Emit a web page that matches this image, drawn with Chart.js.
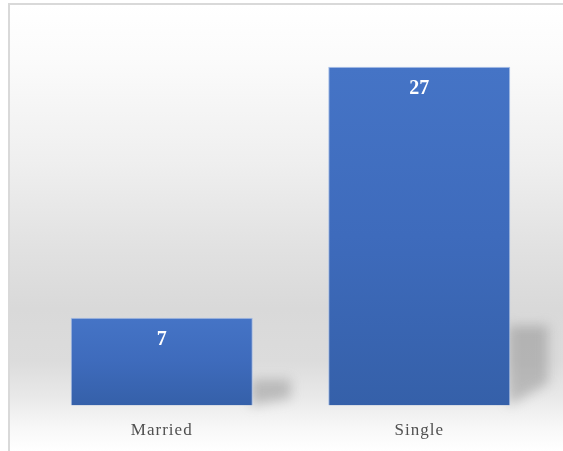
<!DOCTYPE html>
<html>
<head>
<meta charset="utf-8">
<script src="https://cdn.jsdelivr.net/npm/chart.js@4/dist/chart.umd.min.js"></script>
<style>
  html, body { margin: 0; padding: 0; background: #ffffff; }
  #wrap { position: relative; width: 563px; height: 451px; }
</style>
</head>
<body>
<div id="wrap"><canvas id="c" width="563" height="451"></canvas></div>
<script>
const categories = ['Married', 'Single'];
const counts = [7, 27];
const yMax = 30;

const bgPlugin = {
  id: 'bgPlugin',
  beforeDraw(chart) {
    const ctx = chart.ctx;
    const W = chart.width, H = chart.height;
    ctx.save();
    ctx.fillStyle = '#ffffff';
    ctx.fillRect(0, 0, W, H);
    const g = ctx.createLinearGradient(0, 5, 0, H);
    g.addColorStop(0.00, '#ffffff');
    g.addColorStop(0.12, '#fbfbfb');
    g.addColorStop(0.35, '#efefef');
    g.addColorStop(0.55, '#e1e1e1');
    g.addColorStop(0.68, '#d9d9d9');
    g.addColorStop(0.80, '#dcdcdc');
    g.addColorStop(0.88, '#e9e9e9');
    g.addColorStop(0.95, '#f8f8f8');
    g.addColorStop(1.00, '#ffffff');
    ctx.fillStyle = g;
    ctx.fillRect(10, 5, W - 10, H - 5);
    ctx.strokeStyle = '#d9d9d9';
    ctx.lineWidth = 2;
    ctx.beginPath();
    ctx.moveTo(9, H);
    ctx.lineTo(9, 4);
    ctx.lineTo(W, 4);
    ctx.stroke();
    ctx.restore();
    ctx.letterSpacing = '1px';
  },
  beforeDatasetsDraw(chart) {
    const ctx = chart.ctx;
    ctx.letterSpacing = '0px';
    const meta = chart.getDatasetMeta(0);
    ctx.save();
    ctx.filter = 'blur(6px)';
    meta.data.forEach((bar) => {
      const right = bar.x + bar.width / 2;
      const h = Math.min(80, (bar.base - bar.y) * 0.3);
      const top = bar.base - h;
      const w = 38;
      ctx.fillStyle = 'rgba(120,120,120,0.4)';
      ctx.beginPath();
      ctx.moveTo(right - 2, top);
      ctx.lineTo(right + w, top);
      ctx.lineTo(right + w, bar.base - h * 0.28);
      ctx.lineTo(right - 2, bar.base);
      ctx.closePath();
      ctx.fill();
    });
    ctx.restore();
  },
  afterDatasetsDraw(chart) {
    const ctx = chart.ctx;
    const meta = chart.getDatasetMeta(0);
    ctx.save();
    ctx.letterSpacing = '0px';
    ctx.fillStyle = '#ffffff';
    ctx.font = 'bold 20px "Liberation Serif", "Times New Roman", serif';
    ctx.textAlign = 'center';
    ctx.textBaseline = 'middle';
    meta.data.forEach((bar, i) => {
      ctx.fillText(String(counts[i]), bar.x, bar.y + 22);
    });
    ctx.restore();
  }
};

new Chart(document.getElementById('c'), {
  type: 'bar',
  data: {
    labels: categories,
    datasets: [{
      data: counts,
      backgroundColor(context) {
        const chart = context.chart;
        const ys = chart.scales.y;
        if (!ys || context.raw === undefined) return '#4472c4';
        const top = ys.getPixelForValue(context.raw);
        const bottom = ys.getPixelForValue(0);
        if (!isFinite(top) || !isFinite(bottom)) return '#4472c4';
        const g = chart.ctx.createLinearGradient(0, top, 0, bottom);
        g.addColorStop(0, '#4574c6');
        g.addColorStop(0.5, '#3e6bbc');
        g.addColorStop(1, '#3560a9');
        return g;
      },
      borderColor: 'rgba(160,185,230,0.9)',
      borderWidth: 1,
      barPercentage: 0.707,
      categoryPercentage: 1.0
    }]
  },
  options: {
    responsive: false,
    animation: false,
    devicePixelRatio: 1,
    layout: { padding: { left: 33, right: 15, top: 29, bottom: -5 } },
    plugins: { legend: { display: false }, tooltip: { enabled: false }, title: { display: false } },
    scales: {
      x: {
        grid: { display: false, drawTicks: false },
        border: { display: false },
        ticks: {
          padding: 15,
          color: '#505050',
          font: { family: '"Liberation Serif", "Times New Roman", serif', size: 17 }
        }
      },
      y: {
        display: false,
        min: 0,
        max: yMax
      }
    }
  },
  plugins: [bgPlugin]
});
</script>
</body>
</html>
